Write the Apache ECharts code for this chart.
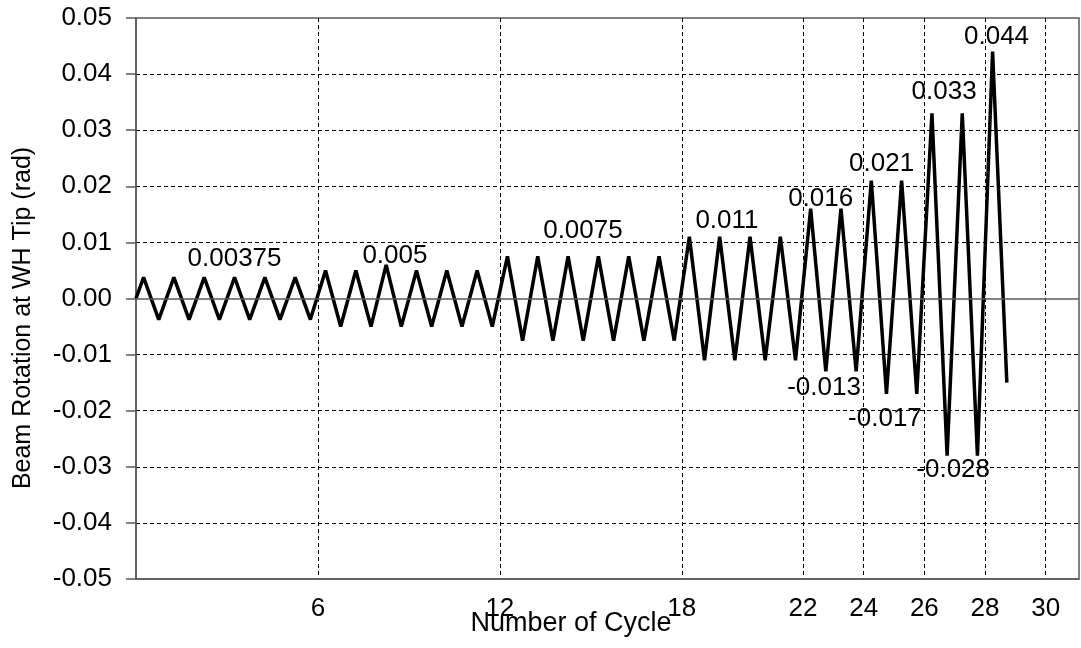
<!DOCTYPE html>
<html>
<head>
<meta charset="utf-8">
<script src="https://cdn.jsdelivr.net/npm/echarts@6/dist/echarts.min.js"></script>
<style>
  html, body { margin: 0; padding: 0; background: #fff; }
  #chart { width: 1081px; height: 648px; }
</style>
</head>
<body>
<div id="chart"></div>
<script>
const xTicks = [6, 12, 18, 22, 24, 26, 28, 30];

// peak / trough of each loading cycle (cycle position, rotation in rad)
const peakCycle = [0.25, 1.25, 2.25, 3.25, 4.25, 5.25, 6.25, 7.25, 8.25, 9.25, 10.25, 11.25, 12.25, 13.25, 14.25,
    15.25, 16.25, 17.25, 18.25, 19.25, 20.25, 21.25, 22.25, 23.25, 24.25, 25.25, 26.25, 27.25, 28.25];
const peakVals = [0.00375, 0.00375, 0.00375, 0.00375, 0.00375, 0.00375,
    0.005, 0.005, 0.006, 0.005, 0.005, 0.005,
    0.0075, 0.0075, 0.0075, 0.0075, 0.0075, 0.0075,
    0.011, 0.011, 0.011, 0.011,
    0.016, 0.016, 0.021, 0.021, 0.033, 0.033, 0.044];
const troughCycle = [0.75, 1.75, 2.75, 3.75, 4.75, 5.75, 6.75, 7.75, 8.75, 9.75, 10.75, 11.75, 12.75, 13.75, 14.75,
    15.75, 16.75, 17.75, 18.75, 19.75, 20.75, 21.75, 22.75, 23.75, 24.75, 25.75, 26.75, 27.75, 28.72];
const troughVals = [-0.00375, -0.00375, -0.00375, -0.00375, -0.00375, -0.00375,
    -0.005, -0.005, -0.005, -0.005, -0.005, -0.005,
    -0.0075, -0.0075, -0.0075, -0.0075, -0.0075, -0.0075,
    -0.011, -0.011, -0.011, -0.011,
    -0.013, -0.013, -0.017, -0.017, -0.028, -0.028, -0.015];

// amplitude annotations: text, x, y
const noteText = ['0.00375', '0.005', '0.0075', '0.011', '0.016', '-0.013', '0.021', '-0.017', '0.033', '0.044', '-0.028'];
const noteX = [3.25, 8.54, 14.74, 19.49, 22.58, 22.69, 24.59, 24.70, 26.65, 28.38, 26.95];
const noteY = [0.0071, 0.0076, 0.0121, 0.0138, 0.0178, -0.0159, 0.0240, -0.0215, 0.0368, 0.0466, -0.0306];

const FONT = 'Liberation Sans, Arial, sans-serif';

function buildLine() {
    const pts = [[0, 0]];
    peakCycle.forEach(function (c, i) {
        pts.push([c, peakVals[i]]);
        pts.push([troughCycle[i], troughVals[i]]);
    });
    return pts;
}

const ySplitColors = ['transparent', '#000', '#000', '#000', '#000', 'transparent', '#000', '#000', '#000', '#000', 'transparent'];

const chart = echarts.init(document.getElementById('chart'), null, { renderer: 'canvas' });

chart.setOption({
    animation: false,
    backgroundColor: '#fff',
    grid: { left: 136, top: 18, width: 943, height: 561, show: true, borderColor: '#5a5a5a', borderWidth: 1.5 },
    xAxis: {
        type: 'value', min: 0, max: 31.1,
        axisLine: { show: true, onZero: false, lineStyle: { color: '#5a5a5a', width: 1.5 } },
        axisTick: { show: false, customValues: xTicks },
        axisLabel: { customValues: xTicks, color: '#000', fontSize: 26, fontFamily: FONT, margin: 17 },
        splitLine: { show: true, lineStyle: { color: '#000', width: 1, type: [4, 3] } }
    },
    yAxis: {
        type: 'value', min: -0.05, max: 0.05, interval: 0.01,
        axisLine: { show: true, lineStyle: { color: '#5a5a5a', width: 1.5 } },
        axisTick: { show: true, inside: false, length: 10, lineStyle: { color: '#5a5a5a', width: 1.5 } },
        axisLabel: {
            color: '#000', fontSize: 26, fontFamily: FONT, margin: 24,
            formatter: function (v) { return Math.abs(v) < 1e-9 ? '0.00' : v.toFixed(2); }
        },
        splitLine: { show: true, lineStyle: { color: ySplitColors, width: 1, type: [4, 3] } }
    },
    graphic: [
        {
            type: 'text', rotation: Math.PI / 2,
            x: 23, y: 318,
            style: { text: 'Beam Rotation at WH Tip (rad)', fill: '#000', font: '25px ' + FONT, align: 'center', verticalAlign: 'middle' }
        },
        {
            type: 'text', x: 571, y: 624,
            style: { text: 'Number of Cycle', fill: '#000', font: '27px ' + FONT, align: 'center', verticalAlign: 'middle' }
        }
    ],
    series: [
        {
            type: 'line',
            data: buildLine(),
            symbol: 'none',
            lineStyle: { color: '#000', width: 3.5 },
            z: 3,
            markLine: {
                silent: true, symbol: 'none', label: { show: false },
                lineStyle: { color: '#5a5a5a', width: 1.5, type: 'solid' },
                data: [{ yAxis: 0 }]
            }
        },
        {
            type: 'scatter',
            symbolSize: 0,
            itemStyle: { opacity: 1 },
            data: noteText.map(function (t, i) { return [noteX[i], noteY[i], t]; }),
            label: {
                show: true, position: 'inside', color: '#000', fontSize: 26, fontFamily: FONT,
                formatter: function (p) { return p.data[2]; }
            },
            z: 4
        }
    ]
});
</script>
</body>
</html>
